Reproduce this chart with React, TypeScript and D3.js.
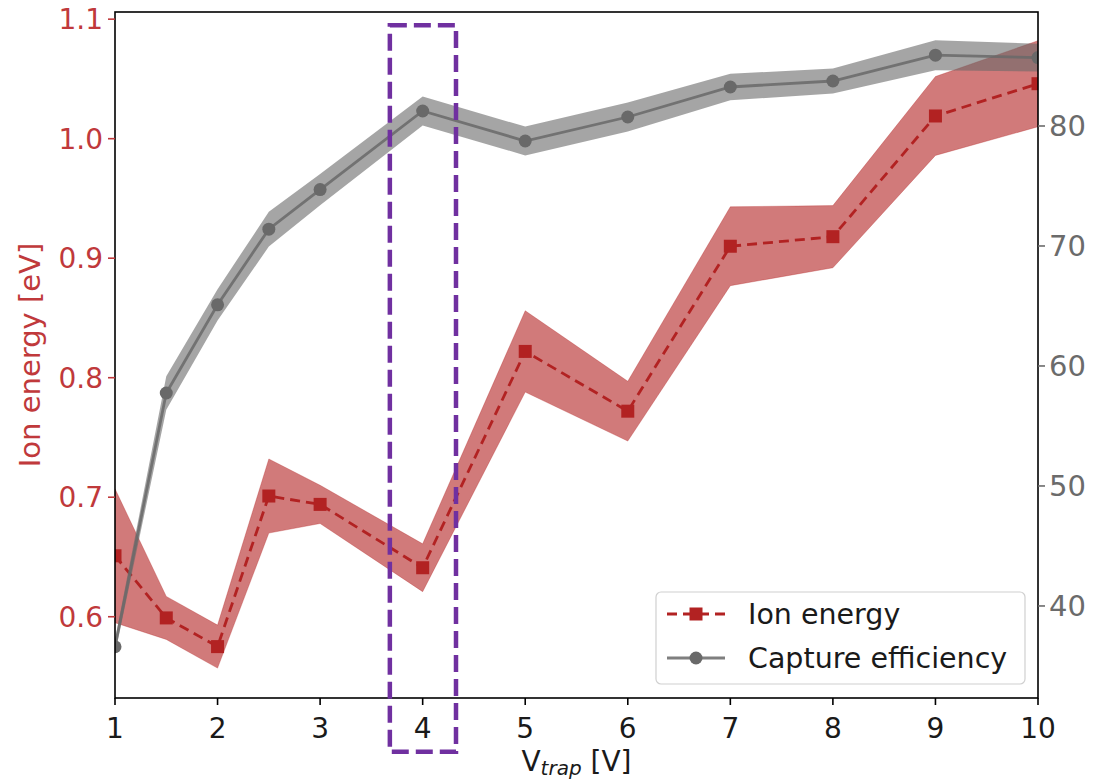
import React from "react";
import * as d3 from "d3";

const vTrap = [1, 1.5, 2, 2.5, 3, 4, 5, 6, 7, 8, 9, 10];
const ionEnergy = [0.651, 0.599, 0.575, 0.701, 0.694, 0.641, 0.822, 0.772, 0.91, 0.918, 1.019, 1.046];
const ionErr = [0.056, 0.018, 0.018, 0.031, 0.016, 0.02, 0.034, 0.025, 0.033, 0.026, 0.033, 0.036];
const capture = [36.6, 57.75, 65.1, 71.4, 74.7, 81.25, 78.75, 80.75, 83.25, 83.75, 85.9, 85.7];
const captureErr = [0.6, 1.4, 1.3, 1.45, 1.3, 1.2, 1.2, 1.2, 1.1, 1.05, 1.25, 1.15];
const xTicks = [1, 2, 3, 4, 5, 6, 7, 8, 9, 10];
const leftTicks = [0.6, 0.7, 0.8, 0.9, 1.0, 1.1];
const rightTicks = [40, 50, 60, 70, 80];
const highlight = { x0: 3.68, x1: 4.325, y0: 0.487, y1: 1.095 };

const W = 1093, H = 784;
const M = { left: 115, right: 1038, top: 12, bottom: 698 };
const RED = "#b22222";
const RED_TXT = "#c0393b";
const GRAY = "#696969";
const GRAY_TXT = "#6b6b6b";
const FONT = "DejaVu Sans, sans-serif";

export default function App() {
  const x = d3.scaleLinear().domain([1, 10]).range([M.left, M.right]);
  const yL = d3.scaleLinear().domain([0.532, 1.106]).range([M.bottom, M.top]);
  const yR = d3.scaleLinear().domain([32.33, 89.5]).range([M.bottom, M.top]);

  const ionPts = vTrap.map((v, i) => ({ x: v, y: ionEnergy[i], e: ionErr[i] }));
  const capPts = vTrap.map((v, i) => ({ x: v, y: capture[i], e: captureErr[i] }));

  const ionArea = d3.area<any>().x((d) => x(d.x)).y0((d) => yL(d.y - d.e)).y1((d) => yL(d.y + d.e));
  const ionLine = d3.line<any>().x((d) => x(d.x)).y((d) => yL(d.y));
  const capArea = d3.area<any>().x((d) => x(d.x)).y0((d) => yR(d.y - d.e)).y1((d) => yR(d.y + d.e));
  const capLine = d3.line<any>().x((d) => x(d.x)).y((d) => yR(d.y));

  const sq = 13;
  const legX = 656, legY = 592, legW = 369, legH = 92;

  return (
    <svg width={W} height={H} style={{ position: "absolute", left: 0, top: 0, background: "#fff" }} fontFamily={FONT}>
      <defs>
        <clipPath id="plotclip">
          <rect x={M.left} y={M.top} width={M.right - M.left} height={M.bottom - M.top} />
        </clipPath>
      </defs>
      <rect x={0} y={0} width={W} height={H} fill="#fff" />
      <g clipPath="url(#plotclip)">
        <path d={ionArea(ionPts) || ""} fill={RED} fillOpacity={0.6} stroke={RED} strokeOpacity={0.3} strokeWidth={1} />
        <path d={ionLine(ionPts) || ""} fill="none" stroke={RED} strokeWidth={2.8} strokeDasharray="10,6" />
        {ionPts.map((d, i) => (
          <rect key={i} x={x(d.x) - sq / 2} y={yL(d.y) - sq / 2} width={sq} height={sq} fill={RED} />
        ))}
        <path d={capArea(capPts) || ""} fill={GRAY} fillOpacity={0.6} />
        <path d={capLine(capPts) || ""} fill="none" stroke={GRAY} strokeOpacity={0.85} strokeWidth={2.8} />
        {capPts.map((d, i) => (
          <circle key={i} cx={x(d.x)} cy={yR(d.y)} r={6.5} fill={GRAY} />
        ))}
      </g>
      {/* spines */}
      <rect x={M.left} y={M.top} width={M.right - M.left} height={M.bottom - M.top} fill="none" stroke="#000" strokeWidth={1.6} />
      {/* x ticks */}
      {xTicks.map((t) => (
        <g key={t}>
          <line x1={x(t)} x2={x(t)} y1={M.bottom} y2={M.bottom + 7} stroke="#000" strokeWidth={1.6} />
          <text x={x(t)} y={M.bottom + 40} textAnchor="middle" fontSize={28} fill="#1a1a1a">{t}</text>
        </g>
      ))}
      {/* left ticks */}
      {leftTicks.map((t) => (
        <g key={t}>
          <line x1={M.left - 7} x2={M.left} y1={yL(t)} y2={yL(t)} stroke={RED_TXT} strokeWidth={1.6} />
          <text x={M.left - 12} y={yL(t) + 10} textAnchor="end" fontSize={28} fill={RED_TXT}>{t.toFixed(1)}</text>
        </g>
      ))}
      {/* right ticks */}
      {rightTicks.map((t) => (
        <g key={t}>
          <line x1={M.right} x2={M.right + 7} y1={yR(t)} y2={yR(t)} stroke={GRAY_TXT} strokeWidth={1.6} />
          <text x={M.right + 11} y={yR(t) + 10} textAnchor="start" fontSize={29} fill={GRAY_TXT}>{t}</text>
        </g>
      ))}
      {/* axis labels */}
      <text x={(M.left + M.right) / 2} y={771} textAnchor="middle" fontSize={28} fill="#1a1a1a">
        V<tspan fontStyle="italic" fontSize={20} dy={4}>trap</tspan><tspan dy={-4}> [V]</tspan>
      </text>
      <text transform={`translate(40,${(M.top + M.bottom) / 2}) rotate(-90)`} textAnchor="middle" fontSize={29} fill={RED_TXT}>
        Ion energy [eV]
      </text>
      {/* legend */}
      <rect x={legX} y={legY} width={legW} height={legH} rx={5} fill="#fff" fillOpacity={0.8} stroke="#d0d0d0" strokeWidth={1.2} />
      <line x1={667} x2={725} y1={614} y2={614} stroke={RED} strokeWidth={2.8} strokeDasharray="10,6" />
      <rect x={696 - sq / 2} y={614 - sq / 2} width={sq} height={sq} fill={RED} />
      <text x={748} y={624} fontSize={28.5} fill="#1a1a1a">Ion energy</text>
      <line x1={667} x2={725} y1={658} y2={658} stroke={GRAY} strokeOpacity={0.85} strokeWidth={2.8} />
      <circle cx={696} cy={658} r={6.5} fill={GRAY} />
      <text x={748} y={668} fontSize={28.5} fill="#1a1a1a">Capture efficiency</text>
      {/* highlight box */}
      <rect
        x={x(highlight.x0)}
        y={yL(highlight.y1)}
        width={x(highlight.x1) - x(highlight.x0)}
        height={yL(highlight.y0) - yL(highlight.y1)}
        fill="none"
        stroke="#7030a0"
        strokeWidth={4.5}
        strokeDasharray="17,7"
      />
    </svg>
  );
}
